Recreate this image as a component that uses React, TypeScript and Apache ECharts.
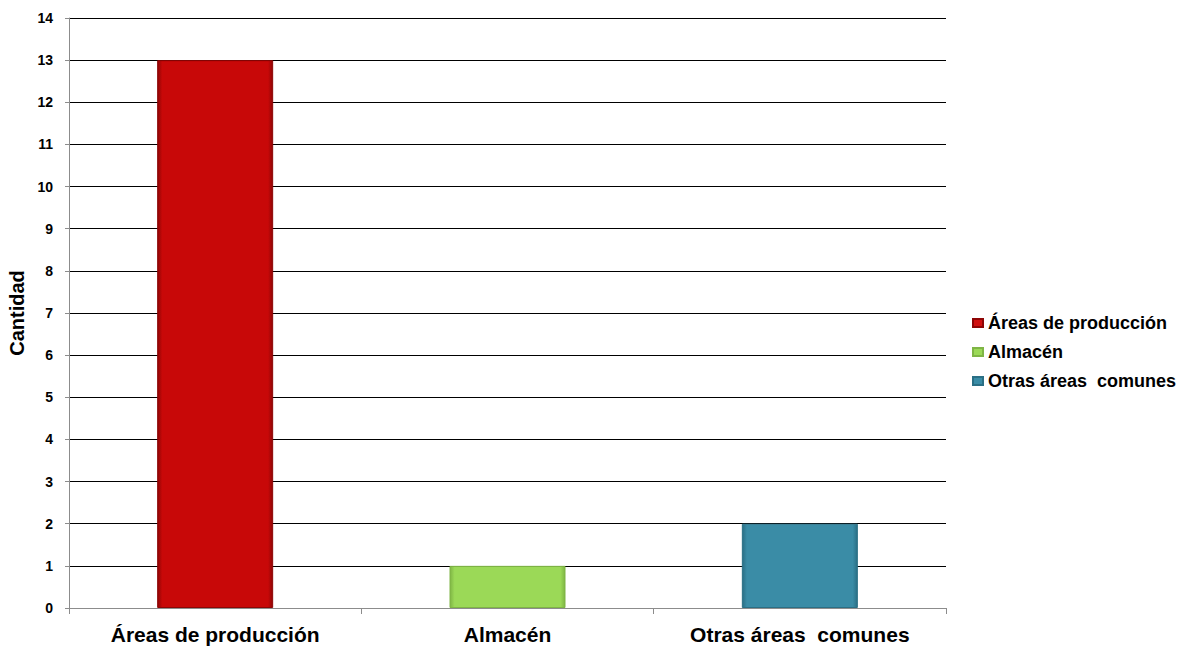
import React, { useEffect, useRef } from "react";
import * as echarts from "echarts";

const categories = ["Áreas de producción", "Almacén", "Otras áreas  comunes"];
const seriesNames = ["Áreas de producción", "Almacén", "Otras áreas  comunes"];
const values = [13, 1, 2];
const baseColors = ["#C80808", "#9BD957", "#3A8CA6"];
const edgeColors = ["#8E0505", "#7FB545", "#2A6F85"];
const legendColors = ["#D01010", "#9BD957", "#3A8CA6"];

const FONT = "'Liberation Sans', Arial, sans-serif";

export default function App() {
  const ref = useRef<HTMLDivElement>(null);

  useEffect(() => {
    if (!ref.current) return;
    const chart = echarts.init(ref.current, null, { renderer: "svg" });

    const series = seriesNames.map((name, i) => ({
      name,
      type: "bar",
      stack: "total",
      barWidth: 116,
      data: categories.map((_, j) => (j === i ? values[i] : null)),
      itemStyle: {
        color: new echarts.graphic.LinearGradient(0, 0, 1, 0, [
          { offset: 0, color: edgeColors[i] },
          { offset: 0.04, color: baseColors[i] },
          { offset: 0.96, color: baseColors[i] },
          { offset: 1, color: edgeColors[i] },
        ]),
        borderColor: edgeColors[i],
        borderWidth: 1,
      },
      emphasis: { disabled: true },
    }));

    chart.setOption({
      animation: false,
      backgroundColor: "#ffffff",
      grid: {
        left: 69,
        top: 18,
        width: 877,
        height: 590,
        containLabel: false,
        outerBoundsMode: "none",
      },
      legend: {
        orient: "vertical",
        left: 967,
        top: 309,
        itemWidth: 10,
        itemHeight: 8,
        itemGap: 11,
        itemTextGap: 4,
        icon: "rect",
        textStyle: { fontFamily: FONT, fontSize: 18, fontWeight: "bold", color: "#000" },
        data: seriesNames.map((n, i) => ({ name: n, itemStyle: { color: legendColors[i] } })),
      },
      xAxis: {
        type: "category",
        data: categories,
        axisLine: { show: true, lineStyle: { color: "#8c8c8c", width: 1 } },
        axisTick: { show: true, alignWithLabel: false, length: 6, lineStyle: { color: "#8c8c8c" } },
        axisLabel: {
          fontFamily: FONT,
          fontSize: 21,
          fontWeight: "bold",
          color: "#000",
          margin: 16,
        },
        splitLine: { show: false },
      },
      yAxis: {
        type: "value",
        min: 0,
        max: 14,
        interval: 1,
        name: "Cantidad",
        nameLocation: "middle",
        nameGap: 41,
        nameRotate: 90,
        nameTextStyle: { fontFamily: FONT, fontSize: 20, fontWeight: "bold", color: "#000" },
        axisLine: { show: true, lineStyle: { color: "#8c8c8c", width: 1 } },
        axisTick: { show: true, length: 4, lineStyle: { color: "#8c8c8c" } },
        axisLabel: {
          fontFamily: FONT,
          fontSize: 14,
          fontWeight: "bold",
          color: "#000",
          margin: 16,
        },
        splitLine: { show: true, lineStyle: { color: "#000", width: 1 } },
      },
      series,
    });

    return () => chart.dispose();
  }, []);

  return (
    <div
      ref={ref}
      style={{ position: "fixed", left: 0, top: 0, width: 1191, height: 647, background: "#fff" }}
    />
  );
}
